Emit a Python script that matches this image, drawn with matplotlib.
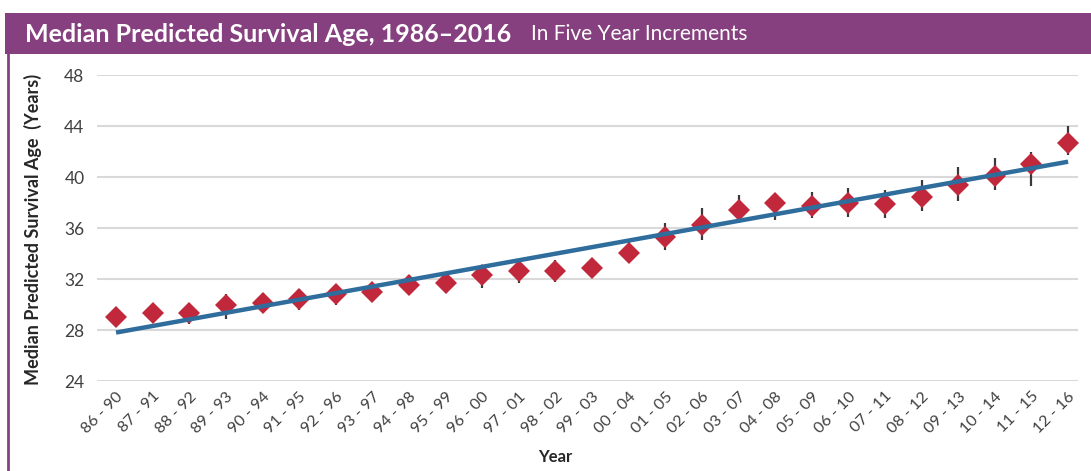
import matplotlib
matplotlib.use('Agg')
import matplotlib.pyplot as plt
from matplotlib.patches import Rectangle
from matplotlib.lines import Line2D
import numpy as np

plt.rcParams['font.family'] = ['Lato', 'DejaVu Sans']

# data
periods = ['86 - 90', '87 - 91', '88 - 92', '89 - 93', '90 - 94', '91 - 95', '92 - 96',
           '93 - 97', '94 - 98', '95 - 99', '96 - 00', '97 - 01', '98 - 02', '99 - 03',
           '00 - 04', '01 - 05', '02 - 06', '03 - 07', '04 - 08', '05 - 09', '06 - 10',
           '07 - 11', '08 - 12', '09 - 13', '10 - 14', '11 - 15', '12 - 16']
median_age = [29.0, 29.3, 29.3, 30.0, 30.15, 30.45, 30.8, 31.0, 31.5, 31.65, 32.35,
              32.6, 32.6, 32.9, 34.05, 35.3, 36.2, 37.45, 38.0, 37.7, 38.0, 37.9,
              38.45, 39.4, 40.05, 41.05, 42.7]
ci_low = [28.6, 28.9, 28.5, 28.9, 29.4, 29.6, 30.0, 30.35, 30.9, 30.9, 31.3, 31.7,
          31.8, 32.3, 33.3, 34.3, 35.05, 36.4, 36.6, 36.8, 36.9, 36.8, 37.3, 38.1,
          39.0, 39.3, 41.7]
ci_high = [29.4, 29.7, 29.9, 30.8, 30.9, 31.2, 31.5, 31.7, 32.3, 32.3, 33.1, 33.25,
           33.5, 33.6, 35.1, 36.4, 37.6, 38.6, 38.6, 38.8, 39.1, 38.95, 39.8, 40.8,
           41.5, 42.0, 44.0]
trend_ends = [27.8, 41.2]   # trend line at first and last period
y_ticks = [24, 28, 32, 36, 40, 44, 48]

PURPLE = '#87407f'
RED = '#c1283c'
BLUE = '#2f6d9c'
W, H = 1091, 471

fig = plt.figure(figsize=(W / 100, H / 100), dpi=100)

# header band + left border
fig.patches.append(Rectangle((5 / W, 1 - 54 / H), 1 - 5 / W, 41 / H,
                             transform=fig.transFigure, facecolor=PURPLE,
                             edgecolor='none', zorder=0))
fig.lines.append(Line2D([8 / W, 8 / W], [0, 1 - 54 / H], transform=fig.transFigure,
                        color=PURPLE, linewidth=2))
fig.text(25 / W, 1 - 34 / H, 'Median Predicted Survival Age, 1986\u20132016',
         color='white', fontsize=18, fontweight='bold', va='center', ha='left')
fig.text(531 / W, 1 - 34 / H, 'In Five Year Increments',
         color='white', fontsize=15, va='center', ha='left')

ax = fig.add_axes([97 / W, 1 - 381 / H, 981 / W, 306 / H])
x = np.arange(len(periods))

ax.vlines(x, ci_low, ci_high, color='#3a3a3a', linewidth=1.6, zorder=2)
ax.plot(x, median_age, linestyle='none', marker='D', markersize=11,
        color=RED, markeredgewidth=0, zorder=3)
ax.plot([x[0], x[-1]], trend_ends, color=BLUE, linewidth=3.2,
        solid_capstyle='butt', zorder=4)

ax.set_xlim(-0.52, 26.27)
ax.set_ylim(24, 48)
ax.set_yticks(y_ticks)
ax.set_yticklabels([str(t) for t in y_ticks], fontsize=12.5, color='#404040')
ax.yaxis.grid(True, color='#d9d9d9', linewidth=1.5)
ax.set_axisbelow(True)
ax.tick_params(axis='both', length=0)
ax.tick_params(axis='y', pad=9)
ax.set_xticks(x)
ax.set_xticklabels(periods, rotation=45, ha='right', rotation_mode='anchor',
                   fontsize=11.5, color='#404040')
ax.tick_params(axis='x', pad=6)
for s in ax.spines.values():
    s.set_visible(False)

fig.text(555 / W, 1 - 457 / H, 'Year', fontsize=12, fontweight='bold',
         ha='center', va='center', color='#262626')
fig.text(33 / W, 1 - 229 / H, 'Median Predicted Survival Age  (Years)', fontsize=13,
         fontweight='bold', rotation=90, ha='center', va='center', color='#262626')

fig.savefig('out.png', dpi=100)
